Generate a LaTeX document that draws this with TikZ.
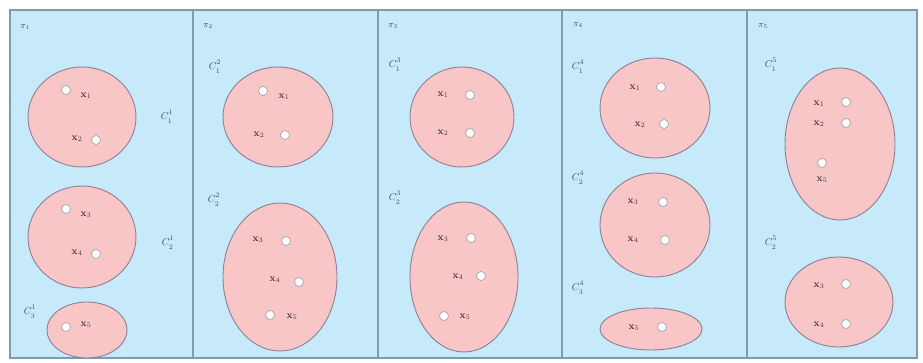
\documentclass[tikz,border=0pt]{standalone}
\usetikzlibrary{shapes.geometric}
\definecolor{panelblue}{HTML}{C7EAFA}
\definecolor{panelline}{HTML}{7A9EB0}
\definecolor{clfill}{HTML}{F8C6C6}
\definecolor{clline}{HTML}{8C7F95}
\definecolor{txtc}{HTML}{3E3035}
\definecolor{lblc}{HTML}{34505C}
\newcommand{\clab}[2]{$C^{\raise1pt\hbox{$\scriptstyle #1$}}_{\lower1.5pt\hbox{$\scriptstyle #2$}}$}
\tikzset{
  panel/.style={draw=panelline, line width=1.3pt, fill=panelblue},
  cluster/.style={ellipse, draw=clline, line width=0.9pt, fill=clfill, inner sep=0pt},
  pt/.style={circle, draw=gray!70, fill=white, line width=0.7pt, minimum size=9pt, inner sep=0pt},
  xl/.style={inner sep=0pt, text=txtc, font=\normalsize},
  cl/.style={inner sep=0pt, text=lblc, font=\normalsize},
  pl/.style={inner sep=0pt, text=lblc, font=\small}
}
\begin{document}
\begin{tikzpicture}[x=1pt,y=-1pt]
\useasboundingbox (0,0) rectangle (923,363);
\fill[white] (0,0) rectangle (923,363);
% panels
\draw[panel] (10,10) rectangle (193,358);
\draw[panel] (193,10) rectangle (378,358);
\draw[panel] (378,10) rectangle (562,358);
\draw[panel] (562,10) rectangle (747,358);
\draw[panel] (747,10) rectangle (917,358);
% partition labels
\node[pl] (p1) at (25,27) {$\pi_1$};
\node[pl] (p2) at (208,26) {$\pi_2$};
\node[pl] (p3) at (393,26) {$\pi_3$};
\node[pl] (p4) at (578,25) {$\pi_4$};
\node[pl] (p5) at (763,26) {$\pi_5$};

% ---- panel 1
\node[cluster, minimum width=108pt, minimum height=100pt] (e11) at (82,117) {};
\node[cluster, minimum width=108pt, minimum height=102pt] (e12) at (82,237) {};
\node[cluster, minimum width=80pt, minimum height=56pt] (e13) at (87,330) {};
\node[cl] (c11) at (167,117) {\clab{1}{1}};
\node[cl] (c12) at (168,243) {\clab{1}{2}};
\node[cl] (c13) at (30,312) {\clab{1}{3}};
\node[pt] (a1) at (66,90) {};
\node[xl] (ta1) at (86,96) {$\mathbf{x}_1$};
\node[xl] (ta2) at (77,139) {$\mathbf{x}_2$};
\node[pt] (a2) at (96,140) {};
\node[pt] (a3) at (66,209) {};
\node[xl] (ta3) at (86,215) {$\mathbf{x}_3$};
\node[xl] (ta4) at (77,253) {$\mathbf{x}_4$};
\node[pt] (a4) at (96,254) {};
\node[pt] (a5) at (66,327) {};
\node[xl] (ta5) at (86,325) {$\mathbf{x}_5$};

% ---- panel 2
\node[cluster, minimum width=110pt, minimum height=100pt] (e21) at (278,117) {};
\node[cluster, minimum width=114pt, minimum height=148pt] (e22) at (280,277) {};
\node[cl] (c21) at (215,67) {\clab{2}{1}};
\node[cl] (c22) at (214,200) {\clab{2}{2}};
\node[pt] (b1) at (263,91) {};
\node[xl] (tb1) at (284,97) {$\mathbf{x}_1$};
\node[xl] (tb2) at (259,135) {$\mathbf{x}_2$};
\node[pt] (b2) at (285,135) {};
\node[xl] (tb3) at (258,240) {$\mathbf{x}_3$};
\node[pt] (b3) at (286,241) {};
\node[xl] (tb4) at (275,280) {$\mathbf{x}_4$};
\node[pt] (b4) at (299,282) {};
\node[pt] (b5) at (270,315) {};
\node[xl] (tb5) at (292,317) {$\mathbf{x}_5$};

% ---- panel 3
\node[cluster, minimum width=104pt, minimum height=100pt] (e31) at (462,117) {};
\node[cluster, minimum width=108pt, minimum height=150pt] (e32) at (464,277) {};
\node[cl] (c31) at (395,65) {\clab{3}{1}};
\node[cl] (c32) at (395,198) {\clab{3}{2}};
\node[xl] (tc1) at (443,95) {$\mathbf{x}_1$};
\node[pt] (d1) at (470,95) {};
\node[xl] (tc2) at (443,133) {$\mathbf{x}_2$};
\node[pt] (d2) at (470,133) {};
\node[xl] (tc3) at (443,239) {$\mathbf{x}_3$};
\node[pt] (d3) at (471,238) {};
\node[xl] (tc4) at (458,277) {$\mathbf{x}_4$};
\node[pt] (d4) at (481,276) {};
\node[pt] (d5) at (444,316) {};
\node[xl] (tc5) at (465,317) {$\mathbf{x}_5$};

% ---- panel 4
\node[cluster, minimum width=110pt, minimum height=100pt] (e41) at (655,108) {};
\node[cluster, minimum width=110pt, minimum height=104pt] (e42) at (655,225) {};
\node[cluster, minimum width=102pt, minimum height=42pt] (e43) at (651,329) {};
\node[cl] (c41) at (578,67) {\clab{4}{1}};
\node[cl] (c42) at (578,178) {\clab{4}{2}};
\node[cl] (c43) at (578,288) {\clab{4}{3}};
\node[xl] (te1) at (635,88) {$\mathbf{x}_1$};
\node[pt] (f1) at (661,87) {};
\node[xl] (te2) at (640,125) {$\mathbf{x}_2$};
\node[pt] (f2) at (664,124) {};
\node[xl] (te3) at (633,202) {$\mathbf{x}_3$};
\node[pt] (f3) at (663,202) {};
\node[xl] (te4) at (633,240) {$\mathbf{x}_4$};
\node[pt] (f4) at (665,240) {};
\node[xl] (te5) at (634,328) {$\mathbf{x}_5$};
\node[pt] (f5) at (662,327) {};

% ---- panel 5
\node[cluster, minimum width=110pt, minimum height=152pt] (e51) at (840,144) {};
\node[cluster, minimum width=108pt, minimum height=90pt] (e52) at (839,302) {};
\node[cl] (c51) at (771,65) {\clab{5}{1}};
\node[cl] (c52) at (771,243) {\clab{5}{2}};
\node[xl] (tg1) at (819,104) {$\mathbf{x}_1$};
\node[pt] (g1) at (846,102) {};
\node[xl] (tg2) at (819,124) {$\mathbf{x}_2$};
\node[pt] (g2) at (846,123) {};
\node[pt] (g5) at (822,163) {};
\node[xl] (tg5) at (822,180) {$\mathbf{x}_5$};
\node[xl] (tg3) at (819,286) {$\mathbf{x}_3$};
\node[pt] (g3) at (846,284) {};
\node[xl] (tg4) at (819,325) {$\mathbf{x}_4$};
\node[pt] (g4) at (846,324) {};
\end{tikzpicture}
\end{document}
